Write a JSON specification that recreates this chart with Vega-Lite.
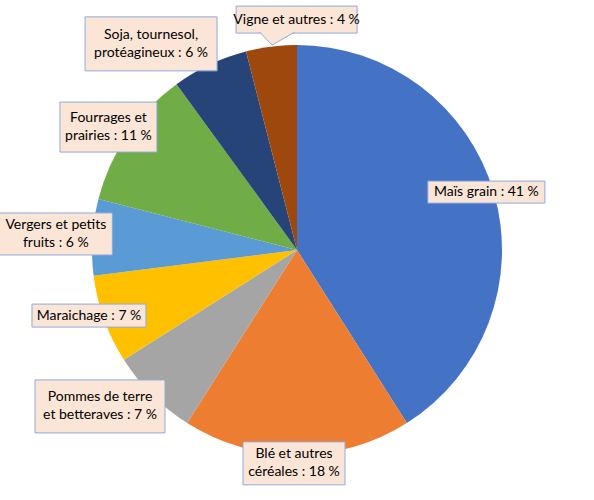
{
  "$schema": "https://vega.github.io/schema/vega-lite/v6.json",
  "width": 594,
  "height": 500,
  "autosize": "none",
  "padding": 0,
  "background": "white",
  "config": {"view": {"stroke": null}},
  "params": [
    {"name": "place", "value": {
      "Maïs grain": [-0.8, 0.966, 117, 22],
      "Blé et autres céréales": [0.8, 1.041, 102, 43],
      "Pommes de terre et betteraves": [6.55, 1.227, 130, 53],
      "Maraichage": [2.3, 1.064, 114, 23],
      "Vergers et petits fruits": [0.2, 1.179, 113, 42],
      "Fourrages et prairies": [-1.1, 1.098, 97, 50],
      "Soja, tournesol, protéagineux": [-10.1, 1.232, 132, 54],
      "Vigne et autres": [7.1, 1.124, 121, 27]
    }}
  ],
  "data": {"values": [
    {"crop": "Maïs grain", "value": 41, "label": ["Maïs grain : 41 %"]},
    {"crop": "Blé et autres céréales", "value": 18, "label": ["Blé et autres", "céréales : 18 %"]},
    {"crop": "Pommes de terre et betteraves", "value": 7, "label": ["Pommes de terre", "et betteraves : 7 %"]},
    {"crop": "Maraichage", "value": 7, "label": ["Maraichage : 7 %"]},
    {"crop": "Vergers et petits fruits", "value": 6, "label": ["Vergers et petits", "fruits : 6 %"]},
    {"crop": "Fourrages et prairies", "value": 11, "label": ["Fourrages et", "prairies : 11 %"]},
    {"crop": "Soja, tournesol, protéagineux", "value": 6, "label": ["Soja, tournesol,", "protéagineux : 6 %"]},
    {"crop": "Vigne et autres", "value": 4, "label": ["Vigne et autres : 4 %"]}
  ]},
  "transform": [
    {"window": [{"op": "row_number", "as": "idx"}, {"op": "sum", "field": "value", "as": "cum"}], "frame": [null, 0]},
    {"joinaggregate": [{"op": "sum", "field": "value", "as": "total"}]},
    {"calculate": "(360 * (datum.cum - datum.value / 2) / datum.total + place[datum.crop][0]) * PI / 180", "as": "ang"},
    {"calculate": "place[datum.crop][1] * sin(datum.ang)", "as": "lx"},
    {"calculate": "place[datum.crop][1] * cos(datum.ang)", "as": "ly"},
    {"calculate": "datum.ly + (length(datum.label) - 1) * 9 / 205", "as": "ty"},
    {"calculate": "datum.lx - place[datum.crop][2] / 2 / 205", "as": "bx"},
    {"calculate": "datum.lx + place[datum.crop][2] / 2 / 205", "as": "bx2"},
    {"calculate": "datum.ly + place[datum.crop][3] / 2 / 205", "as": "by"},
    {"calculate": "datum.ly - place[datum.crop][3] / 2 / 205", "as": "by2"}
  ],
  "layer": [
    {
      "mark": {"type": "arc", "radius": 205, "stroke": null},
      "encoding": {
        "theta": {"field": "value", "type": "quantitative", "stack": true},
        "order": {"field": "idx", "type": "quantitative"},
        "color": {
          "field": "crop", "type": "nominal", "legend": null,
          "scale": {
            "domain": ["Maïs grain", "Blé et autres céréales", "Pommes de terre et betteraves", "Maraichage", "Vergers et petits fruits", "Fourrages et prairies", "Soja, tournesol, protéagineux", "Vigne et autres"],
            "range": ["#4472C4", "#ED7D31", "#A5A5A5", "#FFC000", "#5B9BD5", "#70AD47", "#264478", "#9E480E"]
          }
        }
      }
    },
    {
      "mark": {"type": "rect", "fill": "#FBE5D6", "stroke": "#8FAADC", "strokeWidth": 1},
      "encoding": {
        "x": {"field": "bx", "type": "quantitative", "axis": null, "scale": {"domain": [-1.4488, 1.4488], "nice": false, "zero": false}},
        "x2": {"field": "bx2"},
        "y": {"field": "by", "type": "quantitative", "axis": null, "scale": {"domain": [-1.2195, 1.2195], "nice": false, "zero": false}},
        "y2": {"field": "by2"}
      }
    },
    {
      "transform": [{"filter": "datum.crop === 'Vigne et autres'"}],
      "mark": {"type": "point", "shape": "M-37,-1L-24.5,12L-2,-1", "size": 4, "filled": true, "fill": "#FBE5D6", "stroke": "#8FAADC", "strokeWidth": 1, "opacity": 1, "fillOpacity": 1, "strokeOpacity": 1},
      "encoding": {
        "x": {"field": "lx", "type": "quantitative", "axis": null, "scale": {"domain": [-1.4488, 1.4488], "nice": false, "zero": false}},
        "y": {"field": "by2", "type": "quantitative", "axis": null, "scale": {"domain": [-1.2195, 1.2195], "nice": false, "zero": false}}
      }
    },
    {
      "mark": {"type": "text", "font": "Lato", "fontSize": 14, "lineHeight": 18, "align": "center", "baseline": "middle", "color": "#000000"},
      "encoding": {
        "x": {"field": "lx", "type": "quantitative", "axis": null, "scale": {"domain": [-1.4488, 1.4488], "nice": false, "zero": false}},
        "y": {"field": "ty", "type": "quantitative", "axis": null, "scale": {"domain": [-1.2195, 1.2195], "nice": false, "zero": false}},
        "text": {"field": "label"}
      }
    }
  ]
}
